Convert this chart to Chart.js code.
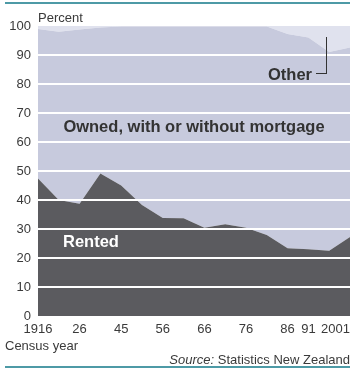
<!DOCTYPE html>
<html>
<head>
<meta charset="utf-8">
<script src="https://cdn.jsdelivr.net/npm/chart.js@4.4.1/dist/chart.umd.min.js"></script>
<style>
  html, body { margin: 0; padding: 0; background: #fff; }
  #wrap { position: relative; width: 355px; height: 372px; font-family: "Liberation Sans", Arial, sans-serif; color: #3a3a3a; overflow: hidden; }
  #wrap canvas { position: absolute; left: 0; top: 0; }
  .rule { position: absolute; left: 5px; width: 345px; height: 2px; background: #4d9aa6; }
  .txt { position: absolute; white-space: nowrap; line-height: 1; }
  .lbl { position: absolute; white-space: nowrap; line-height: 1; font-weight: bold; font-size: 16.5px; }
</style>
</head>
<body>
<div id="wrap">
  <div class="rule" style="top:2px"></div>
  <canvas id="chart" width="355" height="372"></canvas>
  <div class="txt" style="left:38px; top:10.5px; font-size:13px">Percent</div>
  <div class="lbl" style="left:194px; top:118px; transform:translateX(-50%); color:#333">Owned, with or without mortgage</div>
  <div class="lbl" style="left:63px; top:233px; color:#fff">Rented</div>
  <div class="lbl" style="left:268px; top:66px; color:#333">Other</div>
  <div style="position:absolute; left:316px; top:37px; width:10px; height:36px; border-right:1.5px solid #333; border-bottom:1.5px solid #333"></div>
  <div class="txt" style="left:5px; top:338.5px; font-size:13px">Census year</div>
  <div class="txt" style="right:5px; top:353px; font-size:13px"><i>Source:</i> Statistics New Zealand</div>
  <div class="rule" style="top:366px"></div>
</div>
<script>
// census years and the labels printed under the axis
const years = ['1916', '1921', '1926', '1936', '1945', '1951', '1956', '1961', '1966', '1971', '1976', '1981', '1986', '1991', '1996', '2001'];
const tickLabels = ['1916', '', '26', '', '45', '', '56', '', '66', '', '76', '', '86', '91', '', '2001'];

// tenure shares, percent of households
const rented = [47.4, 40.0, 38.7, 49.1, 45.0, 38.3, 33.8, 33.7, 30.4, 31.6, 30.4, 27.9, 23.4, 23.0, 22.5, 27.2];
const owned = [51.6, 58.0, 60.1, 50.4, 54.8, 61.5, 66.0, 66.1, 69.4, 68.2, 69.4, 71.9, 73.8, 73.0, 68.5, 65.4];
const other = [1.0, 2.0, 1.2, 0.5, 0.2, 0.2, 0.2, 0.2, 0.2, 0.2, 0.2, 0.2, 2.8, 4.0, 9.0, 7.4];

const FONT = '"Liberation Sans", Arial, sans-serif';

// x labels drawn by hand so the last one can sit flush with the right edge
const xLabelsPlugin = {
  id: 'xLabels',
  afterDraw(chart) {
    const { ctx, scales } = chart;
    ctx.save();
    ctx.font = '13px ' + FONT;
    ctx.fillStyle = '#3a3a3a';
    ctx.textBaseline = 'alphabetic';
    tickLabels.forEach((label, i) => {
      if (!label) return;
      ctx.textAlign = i === tickLabels.length - 1 ? 'right' : 'center';
      ctx.fillText(label, scales.x.getPixelForValue(i), 333);
    });
    ctx.restore();
  },
};

function area(label, data, color, fill) {
  return { label, data, backgroundColor: color, borderWidth: 0, pointRadius: 0, fill, tension: 0 };
}

new Chart(document.getElementById('chart'), {
  type: 'line',
  data: {
    labels: years,
    datasets: [
      area('Rented', rented, '#5b5b5f', 'origin'),
      area('Owned, with or without mortgage', owned, '#c7cadd', '-1'),
      area('Other', other, '#e0e2ee', '-1'),
    ],
  },
  options: {
    responsive: false,
    animation: false,
    events: [],
    layout: { padding: { top: 26, right: 5, bottom: 56, left: 0 } },
    plugins: { legend: { display: false }, tooltip: { enabled: false } },
    scales: {
      x: { display: false, offset: false },
      y: {
        stacked: true,
        min: 0,
        max: 100,
        afterFit(scale) { scale.width = 38; },
        border: { display: false },
        grid: {
          z: 1,
          color: (c) => (c.tick && c.tick.value > 0 && c.tick.value < 100 ? '#ffffff' : 'rgba(0,0,0,0)'),
          lineWidth: 2,
          drawTicks: false,
        },
        ticks: { stepSize: 10, padding: 7, color: '#3a3a3a', font: { size: 13, family: FONT } },
      },
    },
  },
  plugins: [xLabelsPlugin],
});
</script>
</body>
</html>
